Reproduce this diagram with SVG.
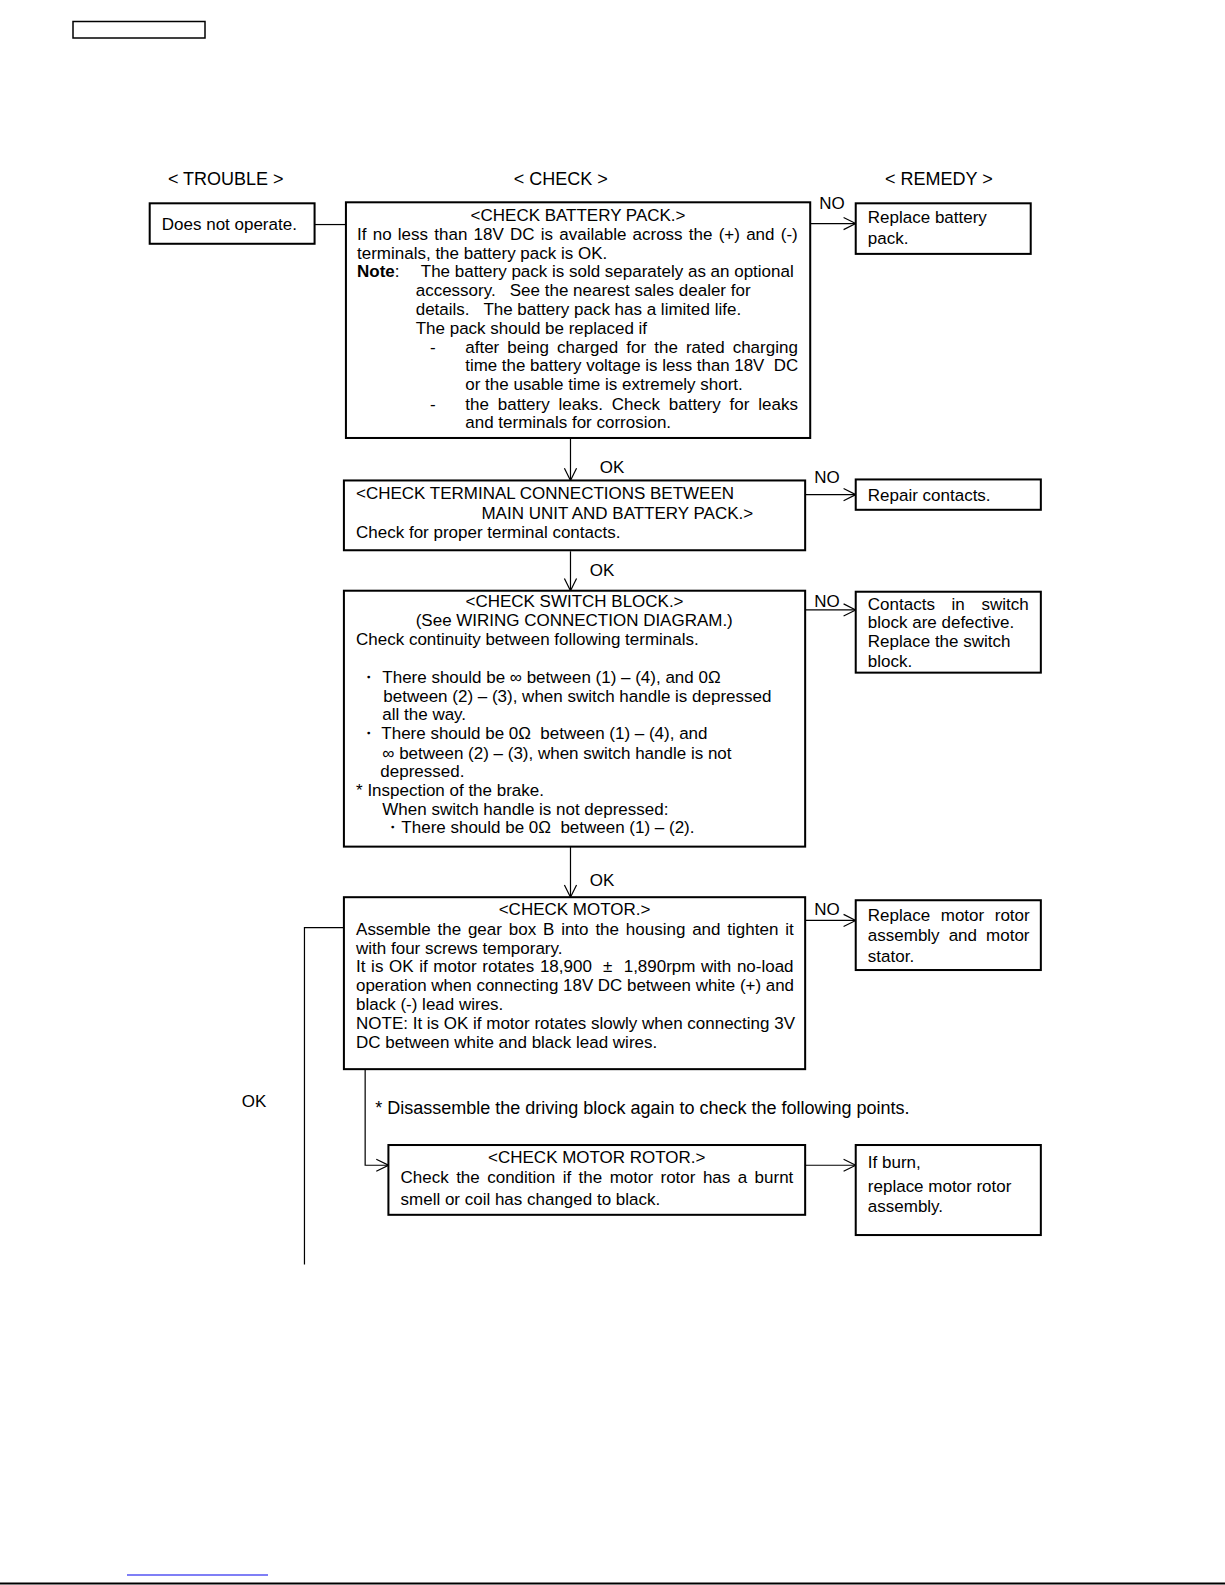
<svg xmlns="http://www.w3.org/2000/svg" width="1225" height="1585" viewBox="0 0 1225 1585">
<style>
text{font-family:"Liberation Sans",Arial,sans-serif;font-size:16.8px;fill:#000}
.h{font-size:17.8px}
.big{font-size:17.8px}
.b{font-weight:bold}
.box{fill:#fff;stroke:#000;stroke-width:2}
.c{fill:none;stroke:#000;stroke-width:1.2}
</style>
<defs>
<marker id="ar" viewBox="0 0 14 14" refX="13" refY="7" markerWidth="14" markerHeight="14" markerUnits="userSpaceOnUse" orient="auto">
<path d="M1,1 L13,7 L1,13" fill="none" stroke="#000" stroke-width="1.2"/>
</marker>
</defs>
<rect x="0" y="0" width="1225" height="1585" fill="#fff"/>
<rect x="73" y="21.5" width="132" height="16.5" fill="none" stroke="#000" stroke-width="1.5"/>

<g transform="scale(1.0115)">
<text class="h" x="166" y="183">&lt; TROUBLE &gt;</text>
<text class="h" x="508" y="183">&lt; CHECK &gt;</text>
<text class="h" x="875" y="183">&lt; REMEDY &gt;</text>

<g id="connectors">
<path class="c" d="M311,222 H342"/>
<path class="c" d="M801,221 H846" marker-end="url(#ar)"/>
<path class="c" d="M564,433 V475" marker-end="url(#ar)"/>
<path class="c" d="M796,489 H846" marker-end="url(#ar)"/>
<path class="c" d="M564,545 V584" marker-end="url(#ar)"/>
<path class="c" d="M796,603 H846" marker-end="url(#ar)"/>
<path class="c" d="M564,837 V887" marker-end="url(#ar)"/>
<path class="c" d="M796,910 H846" marker-end="url(#ar)"/>
<path class="c" d="M361,1057 V1152 H384" marker-end="url(#ar)"/>
<path class="c" d="M796,1152 H846" marker-end="url(#ar)"/>
<path class="c" d="M340,917 H301 V1250"/>
<text x="810" y="207">NO</text>
<text x="593" y="468">OK</text>
<text x="805" y="478">NO</text>
<text x="583" y="569">OK</text>
<text x="805" y="600">NO</text>
<text x="583" y="876">OK</text>
<text x="805" y="905">NO</text>
<text x="239" y="1094">OK</text>
</g>

<g id="trouble">
<rect class="box" x="148" y="201" width="163" height="40"/>
<text x="160" y="227">Does not operate.</text>
</g>

<g id="check-battery">
<rect class="box" x="342" y="200" width="459" height="233"/>
<text x="571.5" y="218" text-anchor="middle">&lt;CHECK BATTERY PACK.&gt;</text>
<text x="353" y="237" word-spacing="1.5">If no less than 18V DC is available across the (+) and (-)</text>
<text x="353" y="256">terminals, the battery pack is OK.</text>
<text x="353" y="274"><tspan class="b">Note</tspan>:</text>
<text x="416" y="274">The battery pack is sold separately as an optional</text>
<text x="411" y="293" xml:space="preserve">accessory.   See the nearest sales dealer for</text>
<text x="411" y="311" xml:space="preserve">details.   The battery pack has a limited life.</text>
<text x="411" y="330">The pack should be replaced if</text>
<text x="425" y="349">-</text>
<text x="460" y="349" word-spacing="3.3">after being charged for the rated charging</text>
<text x="460" y="367" xml:space="preserve" textLength="329" lengthAdjust="spacingAndGlyphs">time the battery voltage is less than 18V  DC</text>
<text x="460" y="386">or the usable time is extremely short.</text>
<text x="425" y="405">-</text>
<text x="460" y="405" word-spacing="4.1">the battery leaks. Check battery for leaks</text>
<text x="460" y="423">and terminals for corrosion.</text>
</g>

<g id="remedy-battery">
<rect class="box" x="846" y="201" width="173" height="50"/>
<text x="858" y="220">Replace battery</text>
<text x="858" y="241">pack.</text>
</g>

<g id="check-terminal">
<rect class="box" x="340" y="475" width="456" height="69"/>
<text x="352" y="493">&lt;CHECK TERMINAL CONNECTIONS BETWEEN</text>
<text x="476" y="513">MAIN UNIT AND BATTERY PACK.&gt;</text>
<text x="352" y="532">Check for proper terminal contacts.</text>
</g>

<g id="remedy-terminal">
<rect class="box" x="846" y="474" width="183" height="30"/>
<text x="858" y="495">Repair contacts.</text>
</g>

<g id="check-switch">
<rect class="box" x="340" y="584" width="456" height="253"/>
<text x="568" y="600" text-anchor="middle">&lt;CHECK SWITCH BLOCK.&gt;</text>
<text x="411" y="619">(See WIRING CONNECTION DIAGRAM.)</text>
<text x="352" y="638">Check continuity between following terminals.</text>
<text x="356" y="675">・</text>
<text x="378" y="675">There should be ∞ between (1) – (4), and 0Ω</text>
<text x="379" y="694">between (2) – (3), when switch handle is depressed</text>
<text x="378" y="712">all the way.</text>
<text x="356" y="731">・</text>
<text x="377" y="731" xml:space="preserve">There should be 0Ω  between (1) – (4), and</text>
<text x="378" y="750">∞ between (2) – (3), when switch handle is not</text>
<text x="376" y="768">depressed.</text>
<text x="352" y="787">* Inspection of the brake.</text>
<text x="378" y="806">When switch handle is not depressed:</text>
<text x="380" y="824" xml:space="preserve">・There should be 0Ω  between (1) – (2).</text>
</g>

<g id="remedy-switch">
<rect class="box" x="846" y="585" width="183" height="80"/>
<text x="858" y="603" word-spacing="11.8">Contacts in switch</text>
<text x="858" y="621">block are defective.</text>
<text x="858" y="640">Replace the switch</text>
<text x="858" y="659">block.</text>
</g>

<g id="check-motor">
<rect class="box" x="340" y="887" width="456" height="170"/>
<text x="568" y="905" text-anchor="middle">&lt;CHECK MOTOR.&gt;</text>
<text x="352" y="924" word-spacing="2.1">Assemble the gear box B into the housing and tighten it</text>
<text x="352" y="943">with four screws temporary.</text>
<text x="352" y="961" word-spacing="0.9" xml:space="preserve">It is OK if motor rotates 18,900  ±  1,890rpm with no-load</text>
<text x="352" y="980" textLength="433" lengthAdjust="spacingAndGlyphs">operation when connecting 18V DC between white (+) and</text>
<text x="352" y="999">black (-) lead wires.</text>
<text x="352" y="1017">NOTE: It is OK if motor rotates slowly when connecting 3V</text>
<text x="352" y="1036">DC between white and black lead wires.</text>
</g>

<g id="remedy-motor">
<rect class="box" x="846" y="890" width="183" height="69"/>
<text x="858" y="911" word-spacing="5.8">Replace motor rotor</text>
<text x="858" y="930" word-spacing="4.3">assembly and motor</text>
<text x="858" y="951">stator.</text>
</g>

<text class="big" x="371" y="1101">* Disassemble the driving block again to check the following points.</text>

<g id="check-rotor">
<rect class="box" x="384" y="1132" width="412" height="69"/>
<text x="590" y="1150" text-anchor="middle">&lt;CHECK MOTOR ROTOR.&gt;</text>
<text x="396" y="1170" word-spacing="2.7">Check the condition if the motor rotor has a burnt</text>
<text x="396" y="1191">smell or coil has changed to black.</text>
</g>

<g id="remedy-rotor">
<rect class="box" x="846" y="1132" width="183" height="89"/>
<text x="858" y="1155">If burn,</text>
<text x="858" y="1178">replace motor rotor</text>
<text x="858" y="1198">assembly.</text>
</g>
</g>

<line x1="127" y1="1575" x2="268" y2="1575" stroke="#0000ee" stroke-width="1.2"/>
<line x1="0" y1="1583.5" x2="1225" y2="1583.5" stroke="#000" stroke-width="2"/>
</svg>
